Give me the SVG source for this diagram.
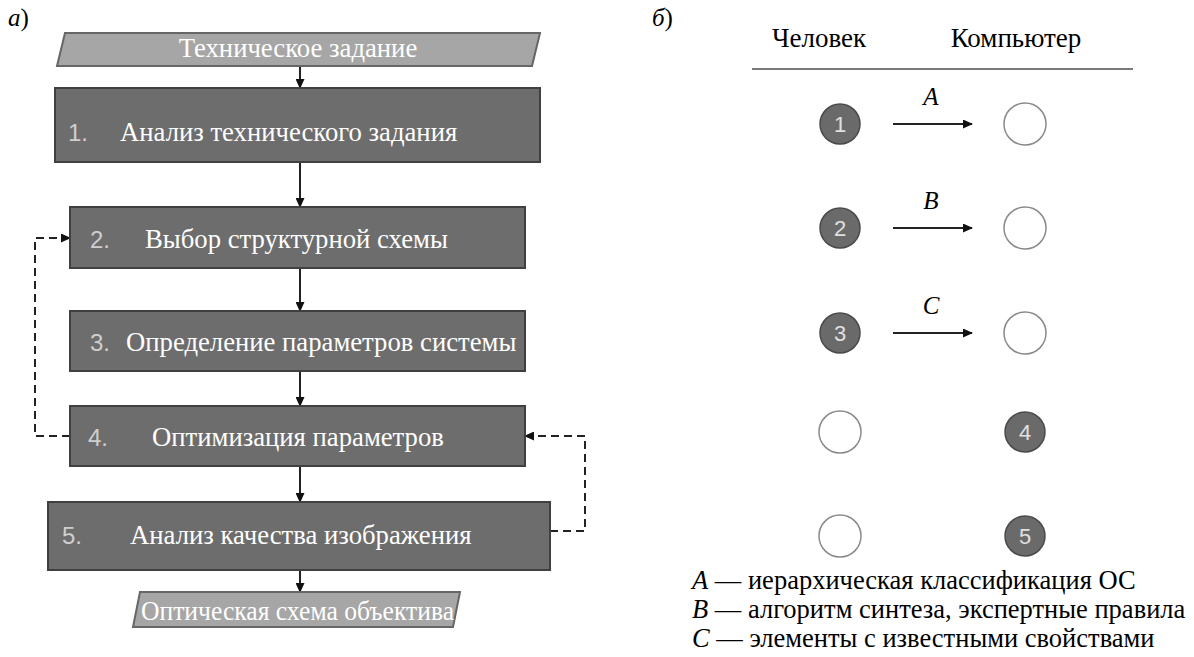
<svg xmlns="http://www.w3.org/2000/svg" width="1194" height="657" viewBox="0 0 1194 657">
<defs>
<marker id="ah" markerWidth="10" markerHeight="9" refX="9" refY="4.5" orient="auto" markerUnits="userSpaceOnUse">
<path d="M0,0 L10,4.5 L0,9 Z" fill="#111"/>
</marker>
<style>
.box{fill:#6d6d6d;stroke:#404040;stroke-width:2}
.io{fill:#a6a6a6;stroke:#666;stroke-width:2}
.t{font-family:"Liberation Serif","Times New Roman",serif;font-size:26.7px;fill:#ffffff}
.num{font-family:"Liberation Sans",Arial,sans-serif;font-size:24px;fill:#cfcfcf}
.lab{font-family:"Liberation Serif","Times New Roman",serif;font-size:27px;fill:#000}
.leg{font-family:"Liberation Serif","Times New Roman",serif;font-size:26.5px;fill:#000}
.it{font-family:"Liberation Serif","Times New Roman",serif;font-style:italic;font-size:25px;fill:#000}
.ln{stroke:#222;stroke-width:2;fill:none}
.dash{stroke:#222;stroke-width:2;fill:none;stroke-dasharray:8,5}
.dk{fill:#6a6a6a;stroke:#4a4a4a;stroke-width:1.5}
.wh{fill:#fff;stroke:#8a8a8a;stroke-width:1.5}
.cn{font-family:"Liberation Sans",Arial,sans-serif;font-size:22px;fill:#e0e0e0;text-anchor:middle}
</style>
</defs>
<rect width="1194" height="657" fill="#fff"/>

<text x="8" y="26" class="it">а<tspan font-style="normal">)</tspan></text>
<text x="652" y="26" class="it">б<tspan font-style="normal">)</tspan></text>

<g id="connectors">
<line x1="300" y1="66" x2="300" y2="88" class="ln" marker-end="url(#ah)"/>
<line x1="300" y1="162" x2="300" y2="207" class="ln" marker-end="url(#ah)"/>
<line x1="300" y1="268" x2="300" y2="311" class="ln" marker-end="url(#ah)"/>
<line x1="300" y1="371" x2="300" y2="406" class="ln" marker-end="url(#ah)"/>
<line x1="300" y1="466" x2="300" y2="502" class="ln" marker-end="url(#ah)"/>
<line x1="300" y1="570" x2="300" y2="592" class="ln" marker-end="url(#ah)"/>
<path d="M70,436 H35 V238 H70" class="dash" marker-end="url(#ah)"/>
<path d="M550,531 H585 V436 H525" class="dash" marker-end="url(#ah)"/>
<line x1="893" y1="124" x2="972" y2="124" class="ln" marker-end="url(#ah)"/>
<line x1="893" y1="228" x2="972" y2="228" class="ln" marker-end="url(#ah)"/>
<line x1="893" y1="333" x2="972" y2="333" class="ln" marker-end="url(#ah)"/>
</g>

<g id="n-input">
<polygon points="65,33 540,33 532,66 57,66" class="io"/>
<text x="298" y="57" class="t" text-anchor="middle">Техническое задание</text>
</g>
<g id="n1">
<rect x="55" y="88" width="485" height="74" class="box"/>
<text x="68" y="141" class="num">1.</text>
<text x="120" y="141" class="t">Анализ технического задания</text>
</g>
<g id="n2">
<rect x="70" y="207" width="455" height="61" class="box"/>
<text x="90" y="248" class="num">2.</text>
<text x="145" y="248" class="t">Выбор структурной схемы</text>
</g>
<g id="n3">
<rect x="70" y="311" width="455" height="60" class="box"/>
<text x="90" y="351" class="num">3.</text>
<text x="126" y="351" class="t">Определение параметров системы</text>
</g>
<g id="n4">
<rect x="70" y="406" width="455" height="60" class="box"/>
<text x="88" y="446" class="num">4.</text>
<text x="152" y="446" class="t">Оптимизация параметров</text>
</g>
<g id="n5">
<rect x="48" y="502" width="502" height="68" class="box"/>
<text x="62" y="544" class="num">5.</text>
<text x="130" y="544" class="t">Анализ качества изображения</text>
</g>
<g id="n-output">
<polygon points="140,592 460,592 453,627 133,627" class="io"/>
<text x="141" y="620" class="t" textLength="313" lengthAdjust="spacingAndGlyphs">Оптическая схема объектива</text>
</g>

<g id="header">
<text x="819" y="47" class="lab" text-anchor="middle">Человек</text>
<text x="1016" y="47" class="lab" text-anchor="middle">Компьютер</text>
<line x1="752" y1="69" x2="1133" y2="69" stroke="#7a7a7a" stroke-width="2"/>
</g>

<g id="r1">
<circle cx="840" cy="124" r="20" class="dk"/><text x="840" y="132" class="cn">1</text>
<circle cx="1025" cy="124" r="21" class="wh"/>
<text x="931" y="105" class="it" text-anchor="middle">A</text>
</g>
<g id="r2">
<circle cx="840" cy="228" r="20" class="dk"/><text x="840" y="236" class="cn">2</text>
<circle cx="1025" cy="228" r="21" class="wh"/>
<text x="931" y="209" class="it" text-anchor="middle">B</text>
</g>
<g id="r3">
<circle cx="840" cy="333" r="20" class="dk"/><text x="840" y="341" class="cn">3</text>
<circle cx="1025" cy="333" r="21" class="wh"/>
<text x="931" y="314" class="it" text-anchor="middle">C</text>
</g>
<g id="r4">
<circle cx="840" cy="432" r="21" class="wh"/>
<circle cx="1025" cy="432" r="20" class="dk"/><text x="1025" y="440" class="cn">4</text>
</g>
<g id="r5">
<circle cx="840" cy="536" r="21" class="wh"/>
<circle cx="1025" cy="536" r="20" class="dk"/><text x="1025" y="544" class="cn">5</text>
</g>

<g id="legend">
<text x="692" y="589" class="leg"><tspan font-style="italic">A</tspan> — иерархическая классификация ОС</text>
<text x="692" y="618" class="leg"><tspan font-style="italic">B</tspan> — алгоритм синтеза, экспертные правила</text>
<text x="692" y="647" class="leg"><tspan font-style="italic">C</tspan> — элементы с известными свойствами</text>
</g>
</svg>
